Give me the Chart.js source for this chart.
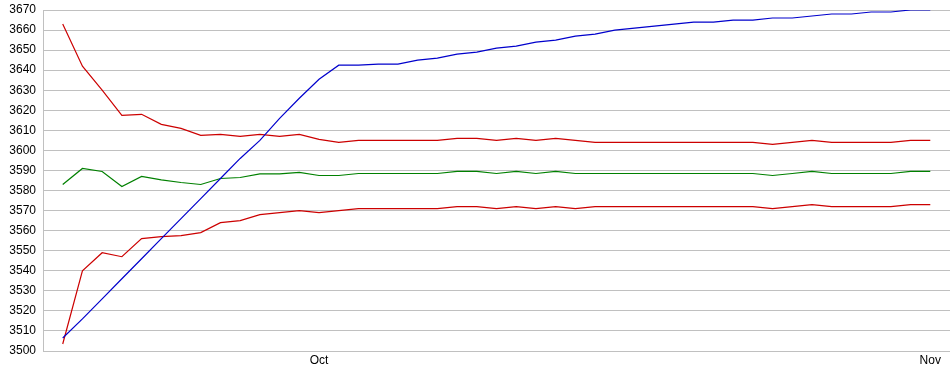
<!DOCTYPE html>
<html>
<head>
<meta charset="utf-8">
<script src="https://cdn.jsdelivr.net/npm/chart.js@4/dist/chart.umd.min.js"></script>
<style>
  html, body { margin: 0; padding: 0; background: #fff; }
  #wrap { width: 950px; height: 375px; position: relative; }
</style>
</head>
<body>
<div id="wrap"><canvas id="chart"></canvas></div>
<script>
const DAYS = [
  "Sep 18", "Sep 19", "Sep 20", "Sep 21", "Sep 22", "Sep 23", "Sep 24", "Sep 25", "Sep 26",
  "Sep 27", "Sep 28", "Sep 29", "Sep 30",
  "Oct 1", "Oct 2", "Oct 3", "Oct 4", "Oct 5", "Oct 6", "Oct 7", "Oct 8", "Oct 9", "Oct 10",
  "Oct 11", "Oct 12", "Oct 13", "Oct 14", "Oct 15", "Oct 16", "Oct 17", "Oct 18", "Oct 19",
  "Oct 20", "Oct 21", "Oct 22", "Oct 23", "Oct 24", "Oct 25", "Oct 26", "Oct 27", "Oct 28",
  "Oct 29", "Oct 30", "Oct 31",
  "Nov 1",
];
const TICK_DAYS = ["Oct 1", "Nov 1"];
const TICK_LABELS = ["Oct", "Nov"];

const blueSeries = [
  3506.5, 3516, 3526, 3536, 3546, 3556, 3566, 3576, 3586, 3596, 3605, 3616, 3626, 3635.5,
  3642.5, 3642.5, 3643, 3643, 3645, 3646, 3648, 3649, 3651, 3652, 3654, 3655, 3657, 3658,
  3660, 3661, 3662, 3663, 3664, 3664, 3665, 3665, 3666, 3666, 3667, 3668, 3668, 3669, 3669,
  3670, 3670,
];
const upperSeries = [
  3663, 3642, 3630, 3617.5, 3618, 3613, 3611, 3607.5, 3608, 3607, 3608, 3607, 3608, 3605.5,
  3604, 3605, 3605, 3605, 3605, 3605, 3606, 3606, 3605, 3606, 3605, 3606, 3605, 3604,
  3604, 3604, 3604, 3604, 3604, 3604, 3604, 3604, 3603, 3604, 3605, 3604, 3604, 3604, 3604,
  3605, 3605,
];
const meanSeries = [
  3583, 3591, 3589.5, 3582, 3587, 3585.3, 3584, 3583, 3586, 3586.5, 3588.3, 3588.3, 3589,
  3587.5, 3587.5, 3588.5, 3588.5, 3588.5, 3588.5, 3588.5, 3589.5, 3589.5, 3588.5, 3589.5,
  3588.5, 3589.5, 3588.5, 3588.5, 3588.5, 3588.5, 3588.5, 3588.5, 3588.5, 3588.5, 3588.5,
  3588.5, 3587.5, 3588.5, 3589.5, 3588.5, 3588.5, 3588.5, 3588.5, 3589.5, 3589.5,
];
const lowerSeries = [
  3503.5, 3540, 3549, 3547, 3556, 3557, 3557.5, 3559, 3564, 3565, 3568, 3569, 3570, 3569,
  3570, 3571, 3571, 3571, 3571, 3571, 3572, 3572, 3571, 3572, 3571, 3572, 3571, 3572,
  3572, 3572, 3572, 3572, 3572, 3572, 3572, 3572, 3571, 3572, 3573, 3572, 3572, 3572, 3572,
  3573, 3573,
];

const Y_MIN = 3500;
const Y_MAX = 3670;
const Y_STEP = 10;
const GRID_COLOR = "#c0c0c0";
const FONT = { family: "'Liberation Sans', Arial, sans-serif", size: 12 };

function toPoints(values) {
  return values.map((v, i) => ({ x: i, y: v }));
}

function lineDataset(values, color) {
  return {
    data: toPoints(values),
    borderColor: color,
    backgroundColor: color,
    borderWidth: 1.2,
    pointRadius: 0,
    tension: 0,
    fill: false,
  };
}

const ctx = document.getElementById("chart").getContext("2d");
new Chart(ctx, {
  type: "line",
  data: {
    datasets: [
      lineDataset(blueSeries, "#0000cc"),
      lineDataset(upperSeries, "#cc0000"),
      lineDataset(meanSeries, "#008000"),
      lineDataset(lowerSeries, "#cc0000"),
    ],
  },
  options: {
    responsive: true,
    maintainAspectRatio: false,
    animation: false,
    layout: { padding: { top: 10, right: 0, left: 0, bottom: 0 } },
    plugins: {
      legend: { display: false },
      tooltip: { enabled: false },
    },
    scales: {
      x: {
        type: "linear",
        min: -1,
        max: DAYS.length,
        grid: { display: false, drawTicks: false },
        border: { display: true, color: GRID_COLOR },
        afterBuildTicks: (scale) => {
          scale.ticks = TICK_DAYS.map((d) => ({ value: DAYS.indexOf(d) }));
        },
        afterFit: (scale) => {
          scale.height = 24;
          scale.paddingLeft = 0;
          scale.paddingRight = 0;
        },
        ticks: {
          autoSkip: false,
          maxRotation: 0,
          padding: 2,
          color: "#000",
          font: FONT,
          callback: (value) => {
            const k = TICK_DAYS.indexOf(DAYS[value]);
            return k >= 0 ? TICK_LABELS[k] : "";
          },
        },
      },
      y: {
        min: Y_MIN,
        max: Y_MAX,
        grid: { color: GRID_COLOR, drawTicks: false },
        border: { display: true, color: GRID_COLOR },
        afterFit: (scale) => {
          scale.width = 43;
          scale.paddingTop = 0;
          scale.paddingBottom = 0;
        },
        ticks: {
          stepSize: Y_STEP,
          padding: 7,
          color: "#000",
          font: FONT,
          callback: (value) => String(value),
        },
      },
    },
  },
});
</script>
</body>
</html>
